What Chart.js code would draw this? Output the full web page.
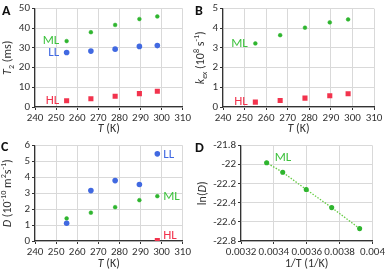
<!DOCTYPE html>
<html>
<head>
<meta charset="utf-8">
<script src="https://cdn.jsdelivr.net/npm/chart.js@4"></script>
<style>
    body { margin: 0; background: #fff; }
    #wrap { position: relative; width: 387px; height: 274px; }
    .panel { position: absolute; }
</style>
</head>
<body>
<div id="wrap">
    <div class="panel" style="left:0;top:0"><canvas id="chart-a" width="193" height="137"></canvas></div>
    <div class="panel" style="left:193px;top:0"><canvas id="chart-b" width="194" height="137"></canvas></div>
    <div class="panel" style="left:0;top:137px"><canvas id="chart-c" width="193" height="137"></canvas></div>
    <div class="panel" style="left:193px;top:137px"><canvas id="chart-d" width="194" height="137"></canvas></div>
</div>
<script>
// Temperatures (K)
const temps = [255, 266.5, 278, 289.5, 298];
const invTemps = [0.003922, 0.003752, 0.003597, 0.003454, 0.003356];

// Panel A: T2 (ms)
const t2ML = [33.5, 38, 41.7, 44.7, 46];
const t2LL = [27.7, 28.4, 29.4, 30.8, 31.2];
const t2HL = [3.2, 4.2, 5.5, 6.8, 8];

// Panel B: kex (10^8 s^-1)
const kexML = [3.23, 3.65, 4.03, 4.3, 4.45];
const kexHL = [0.25, 0.33, 0.45, 0.57, 0.67];

// Panel C: D (10^-10 m2 s^-1)
const diffLL = [1.12, 3.17, 3.8, 3.55, 5.48];
const diffML = [1.42, 1.78, 2.13, 2.57, 2.82];
const diffHLTemp = [298];
const diffHL = [0.03];

// Panel D: ln(D) vs 1/T
const lnDML = [-22.67, -22.45, -22.26, -22.08, -21.98];

const GREEN = '#2fb52f';
const GREEN_TEXT = '#3fc23f';
const BLUE = '#4169e1';
const RED = '#f2334d';
const FONT = 'Carlito, "Roboto Condensed", sans-serif';

function pts(xs, ys) {
    return xs.map((x, i) => ({ x: x, y: ys[i] }));
}

function mlSet(xs, ys) {
    return { data: pts(xs, ys), pointStyle: 'circle', pointRadius: 1.9, backgroundColor: GREEN, borderColor: GREEN, borderWidth: 0.5 };
}
function llSet(xs, ys) {
    return { data: pts(xs, ys), pointStyle: 'circle', pointRadius: 2.8, backgroundColor: BLUE, borderColor: BLUE, borderWidth: 0 };
}
function hlSet(xs, ys) {
    return { data: pts(xs, ys), pointStyle: 'rect', pointRadius: 3.6, backgroundColor: RED, borderColor: RED, borderWidth: 0 };
}

// draws a list of text segments (italic / sub / sup) centered at (cx, cy)
function drawRich(ctx, segs, cx, cy, size) {
    const parts = segs.map(s => {
        const fs = (s.sub || s.sup) ? size * 0.68 : size;
        const f = (s.i ? 'italic ' : '') + fs + 'px ' + FONT;
        ctx.font = f;
        return { s: s, f: f, w: ctx.measureText(s.t).width };
    });
    const total = parts.reduce((a, p) => a + p.w, 0);
    let x = cx - total / 2;
    ctx.textBaseline = 'middle';
    ctx.textAlign = 'left';
    parts.forEach(p => {
        ctx.font = p.f;
        let dy = 0;
        if (p.s.sub) dy = size * 0.3;
        if (p.s.sup) dy = -size * 0.3;
        ctx.fillText(p.s.t, x, cy + dy);
        x += p.w;
    });
}

const annotPlugin = {
    id: 'annot',
    afterDraw(chart, args, opts) {
        const ctx = chart.ctx;
        const area = chart.chartArea;
        ctx.save();
        ctx.fillStyle = '#333';
        // x title
        drawRich(ctx, opts.xTitle, (area.left + area.right) / 2, opts.xTitleY, 12);
        // y title
        ctx.save();
        ctx.translate(opts.yTitleX, (area.top + area.bottom) / 2);
        ctx.rotate(-Math.PI / 2);
        drawRich(ctx, opts.yTitle, 0, 0, 12);
        ctx.restore();
        // panel letter
        ctx.fillStyle = '#111';
        ctx.font = 'bold 14px ' + FONT;
        ctx.textAlign = 'left';
        ctx.textBaseline = 'top';
        ctx.fillText(opts.letter, opts.letterX, opts.letterY);
        // series labels
        const xs = chart.scales.x, ys = chart.scales.y;
        ctx.font = '13px ' + FONT;
        ctx.textBaseline = 'middle';
        (opts.labels || []).forEach(l => {
            ctx.fillStyle = l.color;
            ctx.textAlign = l.align;
            ctx.fillText(l.text, xs.getPixelForValue(l.x), ys.getPixelForValue(l.y));
        });
        ctx.restore();
    }
};

function makeChart(id, cfg) {
    const axisColor = '#333';
    return new Chart(document.getElementById(id), {
        type: 'scatter',
        data: { datasets: cfg.datasets },
        plugins: [annotPlugin],
        options: {
            responsive: false,
            animation: false,
            layout: { padding: { left: 0, right: cfg.padRight, top: cfg.padTop, bottom: 0 } },
            plugins: {
                legend: { display: false },
                tooltip: { enabled: false },
                annot: cfg.annot
            },
            scales: {
                x: {
                    type: 'linear',
                    min: cfg.xMin, max: cfg.xMax,
                    afterFit: s => { s.height = cfg.xHeight; },
                    afterBuildTicks: s => { s.ticks = cfg.xTicks.map(v => ({ value: v })); },
                    grid: { color: '#d9d9d9', tickColor: axisColor, tickLength: 3 },
                    border: { color: axisColor, width: 1.2 },
                    ticks: {
                        color: '#333', padding: 2,
                        font: { size: 11, family: FONT },
                        maxRotation: 0, autoSkip: false,
                        callback: cfg.xFmt || (v => v)
                    }
                },
                y: {
                    type: 'linear',
                    min: cfg.yMin, max: cfg.yMax,
                    afterFit: s => { s.width = cfg.yWidth; },
                    afterBuildTicks: s => { s.ticks = cfg.yTicks.map(v => ({ value: v })); },
                    grid: { color: '#d9d9d9', tickColor: axisColor, tickLength: 3 },
                    border: { color: axisColor, width: 1.2 },
                    ticks: {
                        color: '#333', padding: 2,
                        font: { size: 11, family: FONT },
                        autoSkip: false,
                        callback: cfg.yFmt || (v => v)
                    }
                }
            }
        }
    });
}

const tTicks = [240, 250, 260, 270, 280, 290, 300, 310];
const tTitle = [{ t: 'T', i: true }, { t: ' (K)' }];

makeChart('chart-a', {
    datasets: [mlSet(temps, t2ML), llSet(temps, t2LL), hlSet(temps, t2HL)],
    xMin: 240, xMax: 310, xTicks: tTicks,
    yMin: 0, yMax: 50, yTicks: [0, 10, 20, 30, 40, 50],
    yWidth: 35, xHeight: 30, padRight: 10, padTop: 5,
    annot: {
        letter: 'A', letterX: 2, letterY: 4,
        xTitle: tTitle, xTitleY: 129,
        yTitle: [{ t: 'T', i: true }, { t: '2', sub: true }, { t: ' (ms)' }], yTitleX: 8,
        labels: [
            { text: 'ML', x: 251.5, y: 33.5, color: GREEN_TEXT, align: 'right' },
            { text: 'LL', x: 251.5, y: 27.5, color: BLUE, align: 'right' },
            { text: 'HL', x: 251.5, y: 3, color: RED, align: 'right' }
        ]
    }
});

makeChart('chart-b', {
    datasets: [mlSet(temps, kexML), hlSet(temps, kexHL)],
    xMin: 240, xMax: 310, xTicks: tTicks,
    yMin: 0, yMax: 5, yTicks: [0, 1, 2, 3, 4, 5],
    yWidth: 30, xHeight: 30, padRight: 13, padTop: 6,
    annot: {
        letter: 'B', letterX: 2, letterY: 4,
        xTitle: tTitle, xTitleY: 129,
        yTitle: [{ t: 'k', i: true }, { t: 'ex', sub: true, i: true }, { t: ' (10' }, { t: '8', sup: true }, { t: ' s' }, { t: '-1', sup: true }, { t: ')' }], yTitleX: 8,
        labels: [
            { text: 'ML', x: 251.5, y: 3.23, color: GREEN_TEXT, align: 'right' },
            { text: 'HL', x: 251.5, y: 0.25, color: RED, align: 'right' }
        ]
    }
});

makeChart('chart-c', {
    datasets: [llSet(temps, diffLL), mlSet(temps, diffML), hlSet(diffHLTemp, diffHL)],
    xMin: 240, xMax: 310, xTicks: tTicks,
    yMin: 0, yMax: 6, yTicks: [0, 1, 2, 3, 4, 5, 6],
    yWidth: 35, xHeight: 33, padRight: 10, padTop: 3,
    annot: {
        letter: 'C', letterX: 1, letterY: 3,
        xTitle: tTitle, xTitleY: 127,
        yTitle: [{ t: 'D', i: true }, { t: ' (10' }, { t: '-10', sup: true }, { t: ' m' }, { t: '2', sup: true }, { t: 's' }, { t: '-1', sup: true }, { t: ')' }], yTitleX: 8,
        labels: [
            { text: 'LL', x: 300.8, y: 5.45, color: BLUE, align: 'left' },
            { text: 'ML', x: 300.8, y: 2.8, color: GREEN_TEXT, align: 'left' },
            { text: 'HL', x: 300.8, y: 0.35, color: RED, align: 'left' }
        ]
    }
});

makeChart('chart-d', {
    datasets: [{
        data: pts(invTemps, lnDML), showLine: true,
        borderColor: '#66cc44', borderWidth: 1.3, borderDash: [1.5, 1.5],
        pointStyle: 'circle', pointRadius: 1.9, backgroundColor: GREEN, pointBorderColor: GREEN
    }],
    xMin: 0.0032, xMax: 0.004, xTicks: [0.0032, 0.0034, 0.0036, 0.0038, 0.004],
    xFmt: v => String(Number(v.toFixed(4))),
    yMin: -22.8, yMax: -21.8, yTicks: [-22.8, -22.6, -22.4, -22.2, -22, -21.8],
    yFmt: v => String(Number(v.toFixed(1))),
    yWidth: 48, xHeight: 33, padRight: 14, padTop: 4,
    annot: {
        letter: 'D', letterX: 2, letterY: 4,
        xTitle: [{ t: '1/' }, { t: 'T', i: false }, { t: ' (1/K)' }], xTitleY: 127,
        yTitle: [{ t: 'ln(' }, { t: 'D', i: true }, { t: ')' }], yTitleX: 10,
        labels: [
            { text: 'ML', x: 0.003405, y: -21.93, color: GREEN_TEXT, align: 'left' }
        ]
    }
});
</script>
</body>
</html>
